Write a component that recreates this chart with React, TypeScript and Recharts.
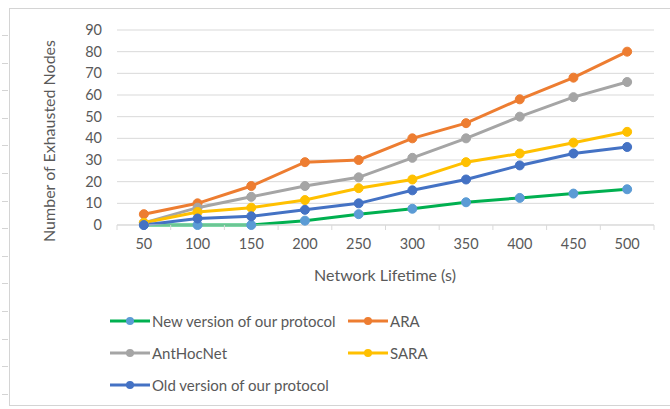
import { LineChart, Line, XAxis, YAxis, CartesianGrid } from 'recharts'

// Network lifetime (s) categories
const lifetimes = ['50', '100', '150', '200', '250', '300', '350', '400', '450', '500']

// Number of exhausted nodes per protocol
const newVersion = [0, 0, 0, 2, 5, 7.5, 10.5, 12.5, 14.5, 16.5]
const ara = [5, 10, 18, 29, 30, 40, 47, 58, 68, 80]
const antHocNet = [1, 8, 13, 18, 22, 31, 40, 50, 59, 66]
const sara = [1, 6, 8, 11.5, 17, 21, 29, 33, 38, 43]
const oldVersion = [0, 3, 4, 7, 10, 16, 21, 27.5, 33, 36]

const yTicks = [0, 10, 20, 30, 40, 50, 60, 70, 80, 90]

const series = [
  { key: 'newVersion', name: 'New version of our protocol', values: newVersion, stroke: '#00B050', dot: '#5B9BD5' },
  { key: 'ara', name: 'ARA', values: ara, stroke: '#ED7D31', dot: '#ED7D31' },
  { key: 'antHocNet', name: 'AntHocNet', values: antHocNet, stroke: '#A5A5A5', dot: '#A5A5A5' },
  { key: 'sara', name: 'SARA', values: sara, stroke: '#FFC000', dot: '#FFC000' },
  { key: 'oldVersion', name: 'Old version of our protocol', values: oldVersion, stroke: '#4472C4', dot: '#4472C4' },
]

const data = lifetimes.map((t, i) => {
  const row: Record<string, string | number> = { t }
  for (const s of series) row[s.key] = s.values[i]
  return row
})

const FONT = 'Lato, "Open Sans", sans-serif'
const TEXT = '#595959'
const GRID = '#d9d9d9'
const TICK_FONT = 14.5

// plot spans 117..654, 10 categories
const HALF_BAND = (654 - 117) / lifetimes.length / 2

function CategoryTick(props: any) {
  const { x, y, payload, index } = props
  const axisY = y - 14
  return (
    <g>
      <line x1={x - HALF_BAND} y1={axisY} x2={x - HALF_BAND} y2={axisY + 5} stroke={GRID} />
      {index === lifetimes.length - 1 && (
        <line x1={x + HALF_BAND} y1={axisY} x2={x + HALF_BAND} y2={axisY + 5} stroke={GRID} />
      )}
      <text x={x} y={y} dy="0.71em" textAnchor="middle" fill={TEXT} fontSize={TICK_FONT} fontFamily={FONT}>
        {payload.value}
      </text>
    </g>
  )
}

function ChartLegend() {
  const rows = [
    [series[0], series[1]],
    [series[2], series[3]],
    [series[4]],
  ]
  return (
    <div style={{ position: 'absolute', left: 109, top: 305, fontFamily: FONT, fontSize: 15, color: TEXT }}>
      {rows.map((row, r) => (
        <div key={r} style={{ display: 'flex', height: 32, alignItems: 'center' }}>
          {row.map((s, c) => (
            <div
              key={s.key}
              style={{ display: 'flex', alignItems: 'center', width: c === 0 ? 238 : 120, flexShrink: 0 }}
            >
              <svg width={42} height={10} style={{ marginRight: 1, flexShrink: 0 }}>
                <line x1={1} y1={5} x2={41} y2={5} stroke={s.stroke} strokeWidth={3} />
                <circle cx={21} cy={5} r={4} fill={s.dot} />
              </svg>
              <span style={{ whiteSpace: 'nowrap' }}>{s.name}</span>
            </div>
          ))}
        </div>
      ))}
    </div>
  )
}

export default function App() {
  return (
    <div style={{ position: 'absolute', left: 0, top: 0, width: 670, height: 409, background: '#fff', overflow: 'hidden' }}>
      <div
        style={{
          position: 'absolute',
          left: 9,
          top: 8,
          width: 680,
          height: 398,
          border: '1px solid #d4d4d4',
          boxSizing: 'border-box',
        }}
      />
      {yTicks.concat([100, 110, 120, 130, 140]).map((_, i) => (
        <div
          key={i}
          style={{ position: 'absolute', left: 2, top: 35 + i * 27.6, width: 6, height: 1, background: '#d4d4d4' }}
        />
      ))}
      <div
        style={{
          position: 'absolute',
          left: 48,
          top: 141,
          transform: 'translate(-50%, -50%) rotate(-90deg)',
          whiteSpace: 'nowrap',
          fontFamily: FONT,
          fontSize: 16,
          color: TEXT,
        }}
      >
        Number of Exhausted Nodes
      </div>
      <div
        style={{
          position: 'absolute',
          left: 385,
          top: 274,
          transform: 'translate(-50%, -50%)',
          whiteSpace: 'nowrap',
          fontFamily: FONT,
          fontSize: 16,
          color: TEXT,
        }}
      >
        Network Lifetime (s)
      </div>
      <LineChart
        width={670}
        height={409}
        data={data}
        margin={{ top: 30, right: 16, left: 0, bottom: 154 }}
        style={{ position: 'absolute', left: 0, top: 0 }}
      >
        <CartesianGrid vertical={false} stroke={GRID} />
        <XAxis
          dataKey="t"
          height={30}
          padding={{ left: HALF_BAND, right: HALF_BAND }}
          axisLine={{ stroke: GRID }}
          tickLine={false}
          tickSize={0}
          tickMargin={14}
          interval={0}
          tick={<CategoryTick />}
        />
        <YAxis
          width={117}
          domain={[0, 90]}
          ticks={yTicks}
          interval={0}
          axisLine={false}
          tickLine={false}
          tickSize={0}
          tickMargin={15}
          tick={{ fill: TEXT, fontSize: TICK_FONT, fontFamily: FONT }}
        />
        {series.map(s => (
          <Line
            key={s.key}
            type="linear"
            dataKey={s.key}
            name={s.name}
            stroke={s.stroke}
            strokeWidth={3}
            dot={{ r: 4.5, fill: s.dot, stroke: s.dot, strokeWidth: 1 }}
            activeDot={false}
            isAnimationActive={false}
          />
        ))}
      </LineChart>
      <ChartLegend />
    </div>
  )
}
